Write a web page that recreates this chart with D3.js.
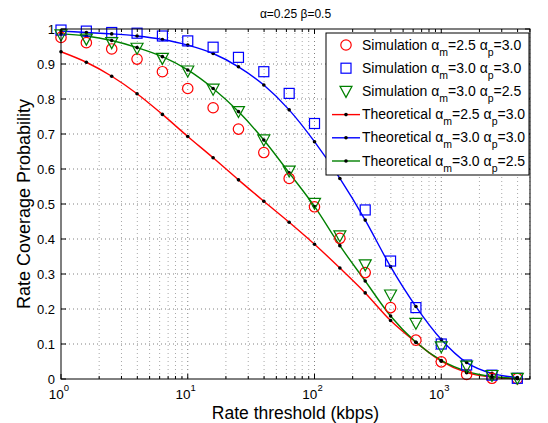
<!DOCTYPE html>
<html>
<head>
<meta charset="utf-8">
<script src="https://cdn.jsdelivr.net/npm/d3@7"></script>
<style>
  body { margin: 0; background: #fff; }
  text { font-family: "Liberation Sans", Arial, Helvetica, sans-serif; fill: #000; }
</style>
</head>
<body>
<div id="chart"></div>
<script>
// rate thresholds (kbps), 5 points per decade
var xVals = [1, 1.585, 2.512, 3.981, 6.310, 10, 15.85, 25.12, 39.81, 63.10,
             100, 158.5, 251.2, 398.1, 631.0, 1000, 1585, 2512, 3981];

// simulation points
var simRed   = [0.976, 0.961, 0.943, 0.914, 0.878, 0.830, 0.775, 0.714, 0.647, 0.573,
                0.492, 0.402, 0.304, 0.204, 0.111, 0.049, 0.013, 0.002, 0.001];
var simBlue  = [0.997, 0.994, 0.990, 0.988, 0.980, 0.966, 0.948, 0.919, 0.878, 0.816,
                0.730, 0.610, 0.483, 0.337, 0.204, 0.100, 0.040, 0.011, 0.002];
var simGreen = [0.983, 0.971, 0.961, 0.945, 0.916, 0.880, 0.828, 0.764, 0.683, 0.594,
                0.502, 0.409, 0.326, 0.240, 0.159, 0.092, 0.037, 0.010, 0.002];

// theoretical curves
var theoRed   = [0.935, 0.905, 0.865, 0.815, 0.756, 0.693, 0.632, 0.569, 0.508, 0.448,
                 0.385, 0.317, 0.246, 0.167, 0.105, 0.051, 0.018, 0.005, 0.001];
var theoBlue  = [0.994, 0.990, 0.986, 0.980, 0.970, 0.954, 0.930, 0.892, 0.840, 0.769,
                 0.678, 0.573, 0.454, 0.321, 0.207, 0.113, 0.047, 0.016, 0.004];
var theoGreen = [0.986, 0.980, 0.967, 0.947, 0.921, 0.883, 0.830, 0.764, 0.683, 0.589,
                 0.493, 0.381, 0.280, 0.180, 0.105, 0.053, 0.022, 0.007, 0.002];

var yTicks = [0, 0.1, 0.2, 0.3, 0.4, 0.5, 0.6, 0.7, 0.8, 0.9, 1];
var xTicks = [1, 10, 100, 1000];
var xTickExp = ["0", "1", "2", "3"];

// legend: [type, alpha_m, alpha_p]
var legendKinds = ["Simulation", "Simulation", "Simulation", "Theoretical", "Theoretical", "Theoretical"];
var legendAm = ["2.5", "3.0", "3.0", "2.5", "3.0", "3.0"];
var legendAp = ["3.0", "3.0", "2.5", "3.0", "3.0", "2.5"];

var W = 548, H = 423;
var margin = {left: 61, top: 29, right: 18, bottom: 44};
var iw = W - margin.left - margin.right,
    ih = H - margin.top - margin.bottom;

var svg = d3.select("#chart").append("svg")
    .attr("width", W).attr("height", H);

var x = d3.scaleLog().domain([1, Math.pow(10, 3.7)]).range([0, iw]);
var y = d3.scaleLinear().domain([0, 1]).range([ih, 0]);

var g = svg.append("g").attr("transform", "translate(" + margin.left + "," + margin.top + ")");

// minor positions for log grid
var minor = [];
for (var d = 1; d <= 1000; d *= 10) {
    for (var m = 2; m <= 9; m++) {
        if (d * m < x.domain()[1]) minor.push(d * m);
    }
}

// grid
g.append("g").selectAll("line").data(minor).enter().append("line")
    .attr("x1", function (d) { return x(d); }).attr("x2", function (d) { return x(d); })
    .attr("y1", 0).attr("y2", ih)
    .attr("stroke", "#a8a8a8").attr("stroke-width", 1).attr("stroke-dasharray", "1,3");
g.append("g").selectAll("line").data(xTicks.slice(1)).enter().append("line")
    .attr("x1", function (d) { return x(d); }).attr("x2", function (d) { return x(d); })
    .attr("y1", 0).attr("y2", ih)
    .attr("stroke", "#808080").attr("stroke-width", 1).attr("stroke-dasharray", "1,3");
g.append("g").selectAll("line").data(yTicks.slice(1, -1)).enter().append("line")
    .attr("x1", 0).attr("x2", iw)
    .attr("y1", function (d) { return y(d); }).attr("y2", function (d) { return y(d); })
    .attr("stroke", "#808080").attr("stroke-width", 1).attr("stroke-dasharray", "1,3");

// theoretical lines
var line = d3.line()
    .x(function (d, i) { return x(xVals[i]); })
    .y(function (d) { return y(d); })
    .curve(d3.curveMonotoneX);

var theo = [{v: theoRed, c: "#ff0000"}, {v: theoBlue, c: "#0000ff"}, {v: theoGreen, c: "#008000"}];

theo.forEach(function (s) {
    g.append("path").datum(s.v)
        .attr("d", line)
        .attr("fill", "none")
        .attr("stroke", s.c)
        .attr("stroke-width", 1.4);
});
theo.forEach(function (s) {
    g.append("g").selectAll("circle").data(s.v).enter().append("circle")
        .attr("cx", function (d, i) { return x(xVals[i]); })
        .attr("cy", function (d) { return y(d); })
        .attr("r", 1.8)
        .attr("fill", "#000");
});

// simulation markers
function circleMark(sel) {
    sel.append("circle").attr("r", 5.2).attr("fill", "none")
        .attr("stroke", "#ff0000").attr("stroke-width", 1.2);
}
function squareMark(sel) {
    sel.append("rect").attr("x", -5).attr("y", -5).attr("width", 10).attr("height", 10)
        .attr("fill", "none").attr("stroke", "#0000ff").attr("stroke-width", 1.2);
}
function triMark(sel) {
    sel.append("path").attr("d", "M-6,-5L6,-5L0,6Z")
        .attr("fill", "none").attr("stroke", "#008000").attr("stroke-width", 1.2);
}

var sims = [{v: simRed, f: circleMark}, {v: simBlue, f: squareMark}, {v: simGreen, f: triMark}];
sims.forEach(function (s) {
    var pts = g.append("g").selectAll("g").data(s.v).enter().append("g")
        .attr("transform", function (d, i) {
            return "translate(" + x(xVals[i]) + "," + y(d) + ")";
        });
    s.f(pts);
});

// axes box
g.append("rect").attr("x", 0).attr("y", 0).attr("width", iw).attr("height", ih)
    .attr("fill", "none").attr("stroke", "#000").attr("stroke-width", 1);

// ticks inside on all sides
var tk = g.append("g").attr("stroke", "#000").attr("stroke-width", 1);
xTicks.forEach(function (d) {
    tk.append("line").attr("x1", x(d)).attr("x2", x(d)).attr("y1", ih).attr("y2", ih - 5);
    tk.append("line").attr("x1", x(d)).attr("x2", x(d)).attr("y1", 0).attr("y2", 5);
});
minor.forEach(function (d) {
    tk.append("line").attr("x1", x(d)).attr("x2", x(d)).attr("y1", ih).attr("y2", ih - 3);
    tk.append("line").attr("x1", x(d)).attr("x2", x(d)).attr("y1", 0).attr("y2", 3);
});
yTicks.forEach(function (d) {
    tk.append("line").attr("x1", 0).attr("x2", 5).attr("y1", y(d)).attr("y2", y(d));
    tk.append("line").attr("x1", iw).attr("x2", iw - 5).attr("y1", y(d)).attr("y2", y(d));
});

// tick labels
g.append("g").selectAll("text").data(yTicks).enter().append("text")
    .attr("x", -6)
    .attr("y", function (d) { return y(d); })
    .attr("dy", "0.35em")
    .attr("text-anchor", "end")
    .style("font-size", "13px")
    .text(function (d) { return d3.format("")(d); });

xTicks.forEach(function (d, i) {
    var t = g.append("text")
        .attr("x", x(d) - 2)
        .attr("y", ih + 20)
        .attr("text-anchor", "middle")
        .style("font-size", "13.5px");
    t.append("tspan").text("10");
    t.append("tspan").attr("dy", -8).style("font-size", "9.5px").text(xTickExp[i]);
});

// axis titles
svg.append("text")
    .attr("x", margin.left + iw / 2)
    .attr("y", 419)
    .attr("text-anchor", "middle")
    .style("font-size", "17.5px")
    .text("Rate threshold (kbps)");

svg.append("text")
    .attr("transform", "translate(30," + (margin.top + ih / 2) + ") rotate(-90)")
    .attr("text-anchor", "middle")
    .style("font-size", "18px")
    .text("Rate Coverage Probability");

svg.append("text")
    .attr("x", margin.left + iw / 2)
    .attr("y", 18)
    .attr("text-anchor", "middle")
    .style("font-size", "12px")
    .text("α=0.25 β=0.5");

// legend
var lg = svg.append("g").attr("transform", "translate(326,33)");
lg.append("rect").attr("width", 203).attr("height", 142)
    .attr("fill", "#fff").attr("stroke", "#000").attr("stroke-width", 1);

var legendMarks = [circleMark, squareMark, triMark];
var legendCols = ["#ff0000", "#0000ff", "#008000"];

legendKinds.forEach(function (kind, i) {
    var row = lg.append("g").attr("transform", "translate(0," + (12 + i * 23.2) + ")");
    if (i < 3) {
        var mk = row.append("g").attr("transform", "translate(20,0)");
        legendMarks[i](mk);
    } else {
        row.append("line").attr("x1", 6).attr("x2", 34).attr("y1", 0).attr("y2", 0)
            .attr("stroke", legendCols[i - 3]).attr("stroke-width", 1.4);
        row.append("circle").attr("cx", 20).attr("cy", 0).attr("r", 1.8).attr("fill", "#000");
    }
    var t = row.append("text").attr("x", 36).attr("y", 4.5).style("font-size", "14px");
    t.append("tspan").text(kind + " α");
    t.append("tspan").attr("dy", 6).style("font-size", "10.5px").text("m");
    t.append("tspan").attr("dy", -6).text("=" + legendAm[i] + " α");
    t.append("tspan").attr("dy", 6).style("font-size", "10.5px").text("p");
    t.append("tspan").attr("dy", -6).text("=" + legendAp[i]);
});
</script>
</body>
</html>
